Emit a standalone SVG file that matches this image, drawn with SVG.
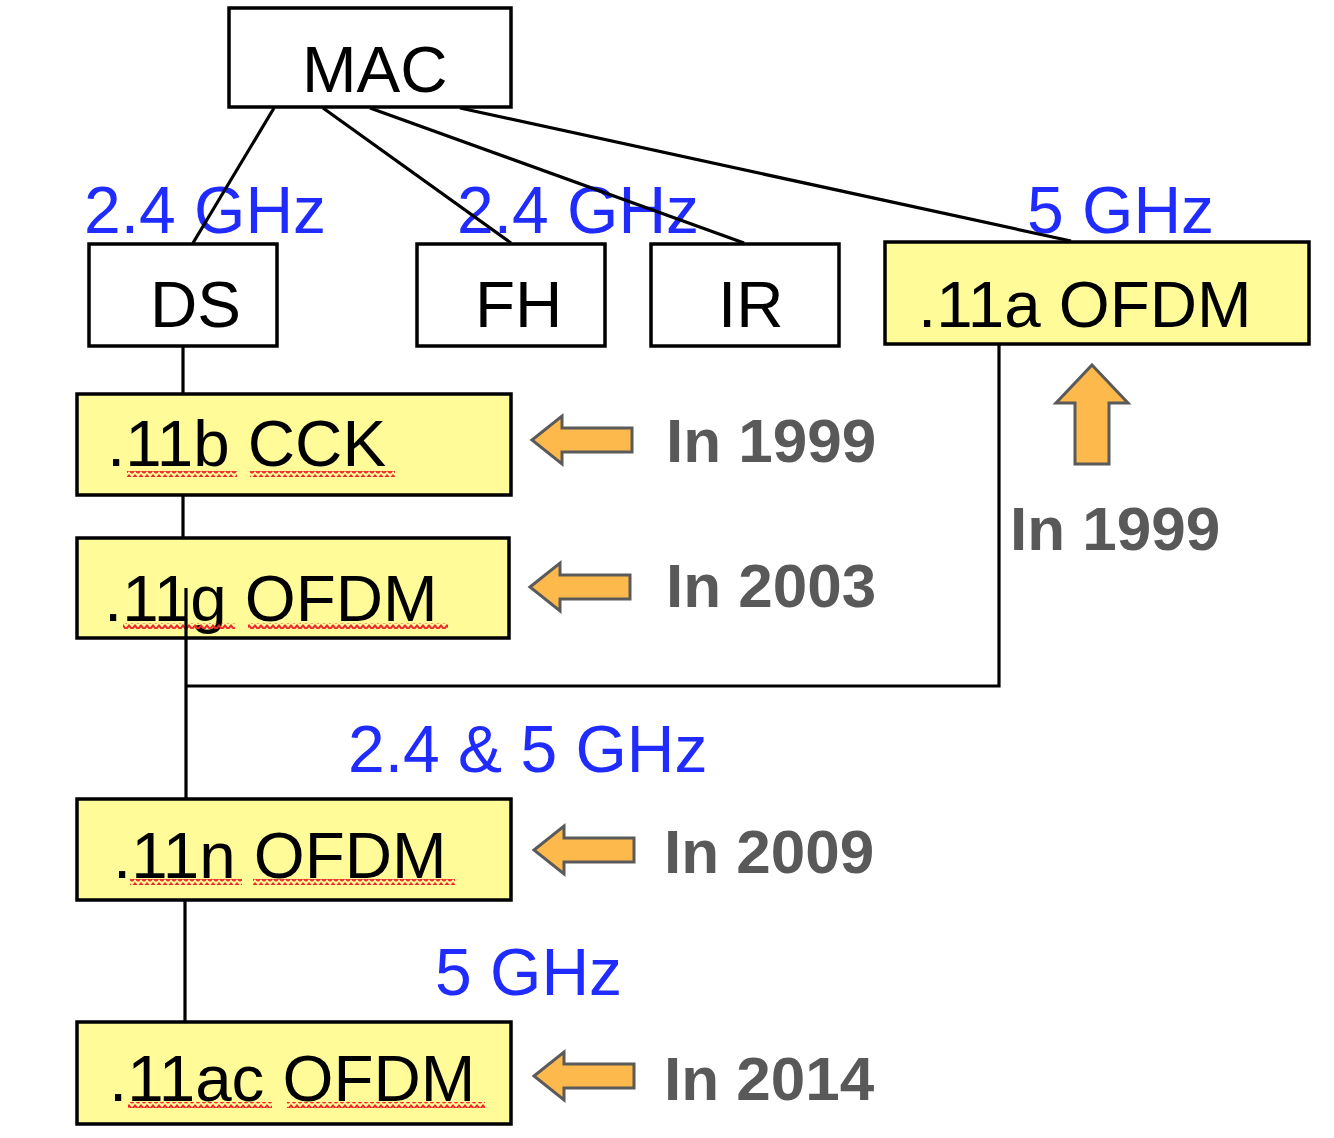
<svg xmlns="http://www.w3.org/2000/svg" width="1334" height="1138" viewBox="0 0 1334 1138">
<style>
.box{fill:#fff;stroke:#000;stroke-width:3.5}
.ybox{fill:#FFFB99;stroke:#000;stroke-width:3.5}
.lbl{font-family:"Liberation Sans",Arial,sans-serif;font-size:65.5px;fill:#000}
.freq{font-family:"Liberation Sans",Arial,sans-serif;font-size:66px;fill:#1F2BFF}
.year{font-family:"Liberation Sans",Arial,sans-serif;font-size:62px;font-weight:bold;fill:#595959}
.conn{stroke:#000;stroke-width:3.2;fill:none}
.arr{fill:#FDB94B;stroke:#5a5a5a;stroke-width:3;stroke-linejoin:miter}
</style>
<defs>
<pattern id="sq" width="6" height="6" patternUnits="userSpaceOnUse">
<path d="M0,5 L3,1.5 L6,5" fill="none" stroke="#F0282C" stroke-width="2"/>
</pattern>
<path id="larrow" d="M0,0 L30,-24 L30,-12 L100,-12 L100,12 L30,12 L30,24 Z"/>
</defs>
<g id="mac"><rect class="box" x="229" y="8" width="282" height="99"/><text class="lbl" x="302" y="92">MAC</text></g>
<g id="freq-ds"><text class="freq" x="84" y="233">2.4 GHz</text></g>
<g id="freq-fh"><text class="freq" x="457" y="233">2.4 GHz</text></g>
<g id="freq-a"><text class="freq" x="1027" y="233">5 GHz</text></g>
<g id="ds"><rect class="box" x="89" y="244" width="188" height="102"/><text class="lbl" x="150" y="327">DS</text></g>
<g id="fh"><rect class="box" x="417" y="244" width="188" height="102"/><text class="lbl" x="475" y="327">FH</text></g>
<g id="ir"><rect class="box" x="651" y="244" width="188" height="102"/><text class="lbl" x="718" y="327">IR</text></g>
<g id="n11a"><rect class="ybox" x="885" y="242" width="424" height="102"/><text class="lbl" x="918" y="327">.11a OFDM</text></g>
<g id="n11b"><rect class="ybox" x="77" y="394" width="434" height="101"/><text class="lbl" x="107" y="466">.11b CCK</text>
<rect x="127" y="471" width="110" height="6" fill="url(#sq)"/><rect x="250" y="471" width="145" height="6" fill="url(#sq)"/></g>
<g id="n11g"><rect class="ybox" x="77" y="538" width="432" height="100"/><text class="lbl" x="104" y="621">.11g OFDM</text>
<rect x="123" y="623" width="112" height="6" fill="url(#sq)"/><rect x="248" y="623" width="200" height="6" fill="url(#sq)"/></g>
<g id="n11n"><rect class="ybox" x="77" y="799" width="434" height="101"/><text class="lbl" x="113" y="878">.11n OFDM</text>
<rect x="130" y="879" width="112" height="6" fill="url(#sq)"/><rect x="253" y="879" width="202" height="6" fill="url(#sq)"/></g>
<g id="n11ac"><rect class="ybox" x="77" y="1022" width="434" height="102"/><text class="lbl" x="109" y="1101">.11ac OFDM</text>
<rect x="128" y="1102" width="144" height="6" fill="url(#sq)"/><rect x="287" y="1102" width="198" height="6" fill="url(#sq)"/></g>
<g id="freq-n"><text class="freq" x="348" y="772">2.4 &amp; 5 GHz</text></g>
<g id="freq-ac"><text class="freq" x="435" y="995">5 GHz</text></g>
<g id="y1999b"><use href="#larrow" class="arr" x="532" y="440"/><text class="year" x="666" y="462">In 1999</text></g>
<g id="y2003"><use href="#larrow" class="arr" x="530" y="587"/><text class="year" x="666" y="607">In 2003</text></g>
<g id="y2009"><use href="#larrow" class="arr" x="534" y="850"/><text class="year" x="664" y="873">In 2009</text></g>
<g id="y2014"><use href="#larrow" class="arr" x="534" y="1076"/><text class="year" x="664" y="1100">In 2014</text></g>
<g id="y1999a"><path class="arr" d="M1092,365 L1128,403 L1109,403 L1109,464 L1075,464 L1075,403 L1056,403 Z"/><text class="year" x="1010" y="550">In 1999</text></g>
<g id="connectors">
<line class="conn" x1="274" y1="108" x2="193" y2="243"/>
<line class="conn" x1="323" y1="108" x2="511" y2="243"/>
<line class="conn" x1="370" y1="108" x2="744" y2="243"/>
<line class="conn" x1="460" y1="108" x2="1071" y2="241"/>
<line class="conn" x1="183" y1="346" x2="183" y2="393"/>
<line class="conn" x1="183" y1="496" x2="183" y2="537"/>
<polyline class="conn" points="186,588 186,798"/>
<polyline class="conn" points="186,686 999,686 999,344"/>
<line class="conn" x1="185" y1="900" x2="185" y2="1021"/>
</g>
</svg>
